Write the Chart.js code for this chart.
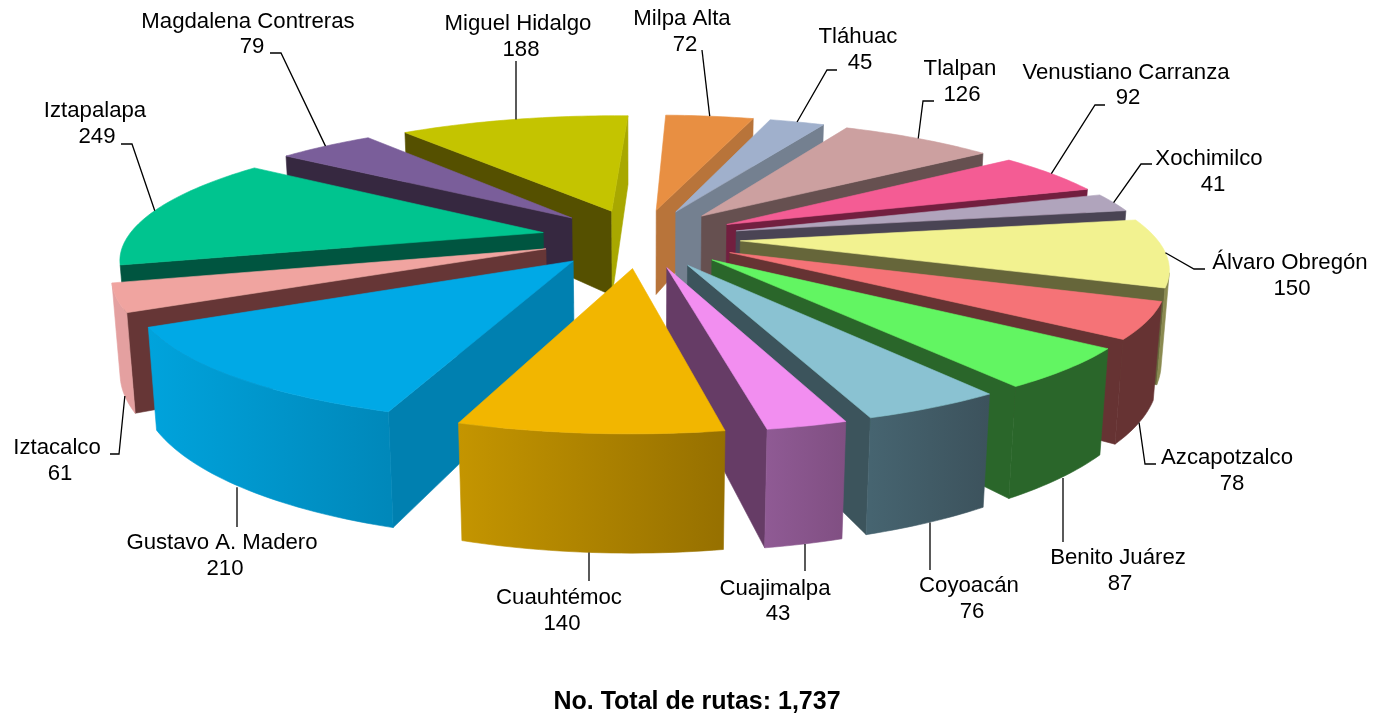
<!DOCTYPE html>
<html>
<head>
<meta charset="utf-8">
<style>html,body{margin:0;padding:0;background:#fff}#wrap{width:1376px;height:716px}canvas{display:block}</style>
<script src="https://cdn.jsdelivr.net/npm/chart.js@4"></script>
</head>
<body>
<div id="wrap"><canvas id="c" width="1376" height="716"></canvas></div>
<script>
const categories = ["Milpa Alta","Tláhuac","Tlalpan","Venustiano Carranza","Xochimilco","Álvaro Obregón","Azcapotzalco","Benito Juárez","Coyoacán","Cuajimalpa","Cuauhtémoc","Gustavo A. Madero","Iztacalco","Iztapalapa","Magdalena Contreras","Miguel Hidalgo"];
const routes = [72,45,126,92,41,150,78,87,76,43,140,210,61,249,79,188];
const titleText = "No. Total de rutas: 1,737";

const topColors = ["#E88F42","#A0B0CC","#CCA0A0","#F45C94","#B0A4BC","#F2F290","#F57377","#62F562","#8AC2D2","#F28EF0","#F2B600","#00A9E6","#F0A4A0","#00C48F","#7A5E9A","#C4C400"];
const startWall = ["#B8743A","#748090","#665050","#721F3F","#4A4454","#66663A","#663333","#2A662A","#3C545C","#663C66","#967000","#0080B0","#663636","#005540","#362840","#555000"];
const endWall = ["#B8743A","#748090","#665050","#721F3F","#4A4454","#66663A","#663333","#2A662A","#3C545C","#663C66","#967000","#0080B0","#663636","#005540","#362840","#A8A800"];
const rimFrom = ["#B8743A","#748090","#665050","#721F3F","#4A4454","#8A8A50","#663333","#2A662A","#466470","#8F5A94","#C49500","#00A3DC","#E4A0A0","#005540","#362840","#A8A800"];
const rimTo = ["#B8743A","#748090","#665050","#721F3F","#4A4454","#8A8A50","#663333","#2A662A","#3C525C","#804F82","#967000","#0088BA","#E4A0A0","#005540","#362840","#A8A800"];

// label layout: centre of name, centre of value, y of each, leader elbow
const labelLayout = [
 {nx:682,ny:19,vx:685,vy:45,from:[702,50],bottom:false},
 {nx:858,ny:37,vx:860,vy:63,from:[837,70],elbow:[827,70],bottom:false},
 {nx:960,ny:69,vx:962,vy:95,from:[934,101],elbow:[923,101],bottom:false},
 {nx:1126,ny:73,vx:1128,vy:98,from:[1105,105],elbow:[1095,105],bottom:false},
 {nx:1209,ny:159,vx:1213,vy:185,from:[1152,164],elbow:[1141,164],bottom:false},
 {nx:1290,ny:263,vx:1292,vy:289,from:[1205,269],elbow:[1194,269],bottom:false},
 {nx:1227,ny:458,vx:1232,vy:484,from:[1156,464],elbow:[1145,464],bottom:true},
 {nx:1118,ny:558,vx:1120,vy:584,from:[1063,542],bottom:true,vertical:true},
 {nx:969,ny:586,vx:972,vy:612,from:[930,570],bottom:true,vertical:true},
 {nx:775,ny:589,vx:778,vy:614,from:[805,571],bottom:true,vertical:true},
 {nx:559,ny:598,vx:562,vy:624,from:[589,581],bottom:true,vertical:true},
 {nx:222,ny:543,vx:225,vy:569,from:[237,527],bottom:true,vertical:true},
 {nx:57,ny:448,vx:60,vy:474,from:[110,454],elbow:[119,454],bottom:true},
 {nx:95,ny:111,vx:97,vy:137,from:[121,144],elbow:[132,144],bottom:false},
 {nx:248,ny:22,vx:252,vy:47,from:[270,53],elbow:[281,53],bottom:false},
 {nx:518,ny:24,vx:521,vy:50,from:[516,61],bottom:false,vertical:true}
];

// camera
const view = {cx:640.5, cy:238, ax:416, q:122, p:0.184, depth:90, depthGrow:0.061, shrink:0.015, explode:0.24};
function project(X,Y,Z){
  const w = 1 - view.p*Y + view.shrink*Z;
  return [view.cx + view.ax*X/w, view.cy + (view.q*Y + view.depth*Z*(1+view.depthGrow*Y))/w];
}
function area(pts){let s=0;for(let i=0;i<pts.length;i++){const a=pts[i],b=pts[(i+1)%pts.length];s+=a[0]*b[1]-b[0]*a[1];}return s;}
function fillPoly(ctx,pts,fill){
  ctx.beginPath();pts.forEach((p,i)=>i?ctx.lineTo(p[0],p[1]):ctx.moveTo(p[0],p[1]));ctx.closePath();
  ctx.fillStyle=fill;ctx.strokeStyle=fill;ctx.lineWidth=0.6;ctx.fill();ctx.stroke();
}
function sliceGeom(arc){
  const s=arc.startAngle,e=arc.endAngle,m=(s+e)/2;
  const ox=view.explode*Math.cos(m),oy=view.explode*Math.sin(m);
  const n=Math.max(3,Math.ceil((e-s)/0.02));
  const rim=[];for(let i=0;i<=n;i++){const a=s+(e-s)*i/n;rim.push([ox+Math.cos(a),oy+Math.sin(a)]);}
  return {m,ox,oy,rim};
}
const pie3d={
  id:'pie3d',
  beforeDatasetDraw(chart){
    const ctx=chart.ctx,arcs=chart.getDatasetMeta(0).data;
    const order=arcs.map((a,i)=>i).sort((i,j)=>Math.sin((arcs[i].startAngle+arcs[i].endAngle)/2)-Math.sin((arcs[j].startAngle+arcs[j].endAngle)/2));
    ctx.save();
    order.forEach(i=>{
      const g=sliceGeom(arcs[i]);
      const tip=[g.ox,g.oy];
      const T=p=>project(p[0],p[1],0),B=p=>project(p[0],p[1],1);
      const quad=(a,b)=>[T(a),T(b),B(b),B(a)];
      // radial walls
      let q=quad(tip,g.rim[0]); if(area(q)<0) fillPoly(ctx,q,startWall[i]);
      q=quad(g.rim[g.rim.length-1],tip); if(area(q)<0) fillPoly(ctx,q,endWall[i]);
      // outer wall: one polygon per contiguous visible run of the rim
      const xs=g.rim.map(p=>T(p)[0]);
      const grad=ctx.createLinearGradient(Math.min(...xs),0,Math.max(...xs),0);
      grad.addColorStop(0,rimFrom[i]);grad.addColorStop(1,rimTo[i]);
      let run=[];
      const flush=()=>{ if(run.length>1) fillPoly(ctx,[...run.map(T),...run.slice().reverse().map(B)],grad); run=[]; };
      for(let k=0;k<g.rim.length-1;k++){
        if(area(quad(g.rim[k],g.rim[k+1]))<0){ if(!run.length) run.push(g.rim[k]); run.push(g.rim[k+1]); }
        else flush();
      }
      flush();
      // top
      fillPoly(ctx,[T(tip),...g.rim.map(T)],topColors[i]);
    });
    // labels and leaders
    ctx.strokeStyle='#000';ctx.lineWidth=1.3;ctx.fillStyle='#000';
    ctx.font='22.2px "Liberation Sans", Arial, sans-serif';ctx.textAlign='center';ctx.textBaseline='middle';
    arcs.forEach((arc,i)=>{
      const L=labelLayout[i],g=sliceGeom(arc);
      const c=Math.cos(g.m),s=Math.sin(g.m);
      const end=project(g.ox+c,g.oy+s,L.bottom?1:0);
      ctx.beginPath();ctx.moveTo(L.from[0],L.from[1]);
      if(L.elbow)ctx.lineTo(L.elbow[0],L.elbow[1]);
      ctx.lineTo(L.vertical?L.from[0]:end[0],end[1]);ctx.stroke();
      ctx.fillText(categories[i],L.nx,L.ny);
      ctx.fillText(String(routes[i]),L.vx,L.vy);
    });
    ctx.restore();
    return false;
  }
};
new Chart(document.getElementById('c'),{
  type:'pie',
  data:{labels:categories,datasets:[{data:routes,backgroundColor:topColors,borderWidth:0}]},
  plugins:[pie3d],
  options:{
    responsive:false,animation:false,rotation:2,
    layout:{padding:{left:18,bottom:0}},
    plugins:{legend:{display:false},tooltip:{enabled:false},
      title:{display:true,text:titleText,position:'bottom',color:'#000',
        font:{family:'"Liberation Sans", Arial, sans-serif',size:25,weight:'bold'},padding:{top:0,bottom:-1}}}
  }
});
</script>
</body>
</html>
